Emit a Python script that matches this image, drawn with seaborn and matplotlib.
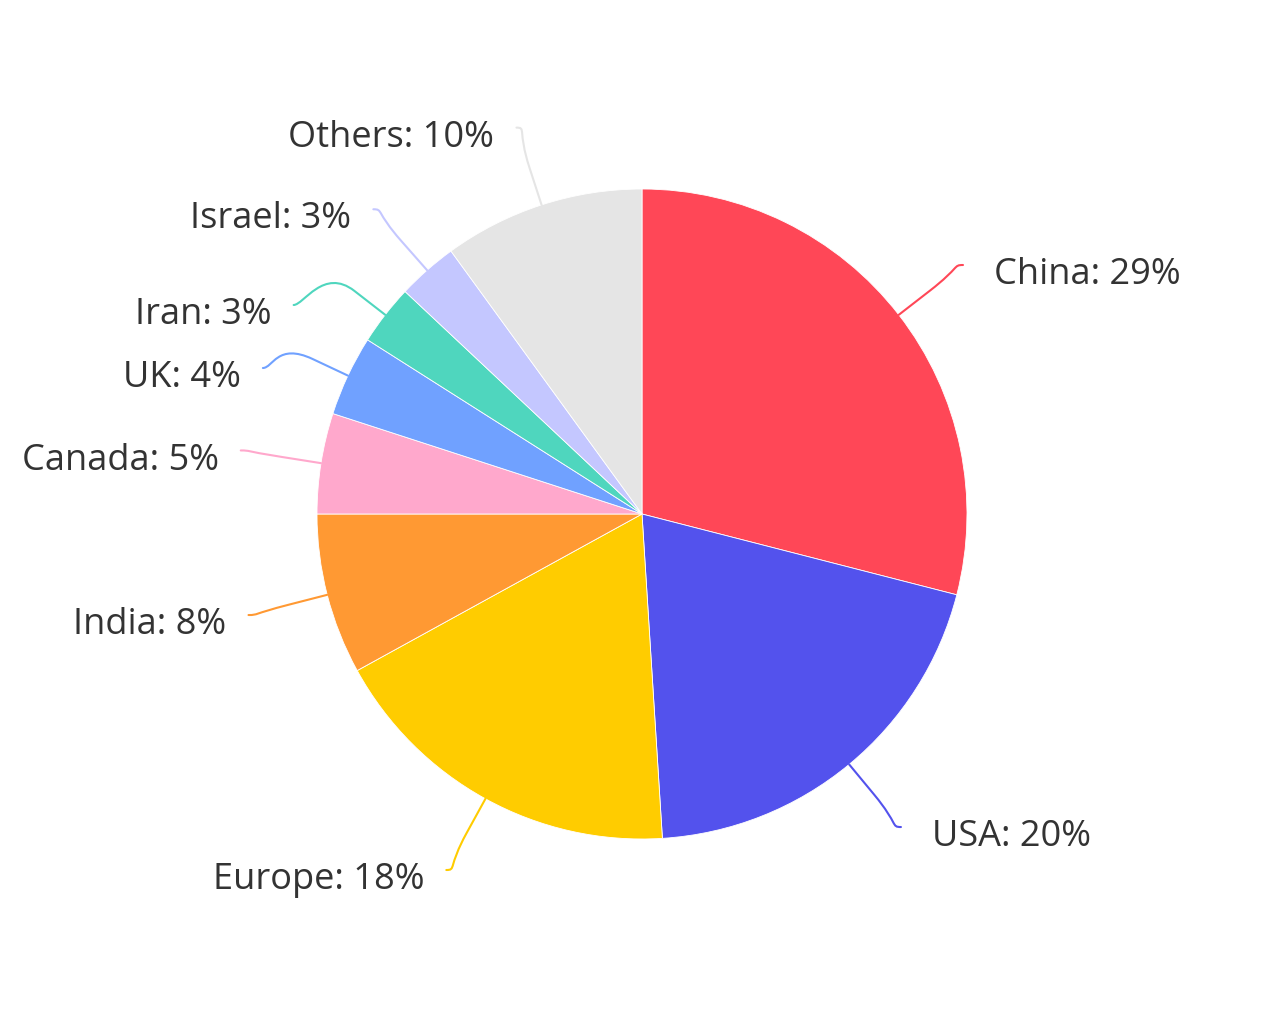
import numpy as np
import matplotlib.pyplot as plt
from matplotlib.path import Path
from matplotlib.patches import PathPatch
import seaborn as sns

countries = ["China", "USA", "Europe", "India", "Canada", "UK", "Iran", "Israel", "Others"]
shares = [29, 20, 18, 8, 5, 4, 3, 3, 10]
colors = ["#FF4757", "#5352ED", "#FFCC00", "#FF9933", "#FFA8CC",
          "#70A1FF", "#4FD6BE", "#C4C7FF", "#E5E5E5"]

sns.set_theme(style="white")
plt.rcParams["font.family"] = ["Open Sans", "DejaVu Sans"]

fig = plt.figure(figsize=(12.8, 10.24), dpi=100)
ax = fig.add_axes([0, 0, 1, 1])

wedges, _ = ax.pie(shares, colors=colors, startangle=90, counterclock=False,
                   radius=1, wedgeprops=dict(edgecolor="white", linewidth=0.6))

# pie centre sits at (642, 514) px with a 325 px radius
px = 1 / 325
ax.set_xlim(-642 * px, (1280 - 642) * px)
ax.set_ylim(-(1024 - 514) * px, 514 * px)
ax.set_aspect("equal", adjustable="datalim")
ax.axis("off")

r_label = 1.25
r_break = 1.12
# labels that get pushed down to make room (data units)
label_shift = {"Iran": -0.123, "UK": -0.083}

for w, name, val, col in zip(wedges, countries, shares, colors):
    a = np.deg2rad((w.theta1 + w.theta2) / 2)
    tx, ty = np.cos(a), np.sin(a)
    bx, by = r_break * tx, r_break * ty
    ly = r_label * ty + label_shift.get(name, 0)
    side = 1 if tx > 0 else -1
    lx = side * np.sqrt(r_label ** 2 - ly ** 2)
    verts = [(lx, ly), (lx - side * 10 * px, ly), (2 * bx - tx, 2 * by - ty),
             (bx, by), (tx, ty)]
    codes = [Path.MOVETO, Path.CURVE4, Path.CURVE4, Path.CURVE4, Path.LINETO]
    ax.add_patch(PathPatch(Path(verts, codes), fill=False, edgecolor=col,
                           lw=1.5, capstyle="round"))
    pad = 0.095 if side > 0 else 0.068
    ax.text(lx + side * pad, ly - 0.031, f"{name}: {val}%",
            ha="left" if side > 0 else "right", va="center",
            fontsize=26, color="#333333")

fig.savefig("out.png", dpi=100, facecolor="white")
